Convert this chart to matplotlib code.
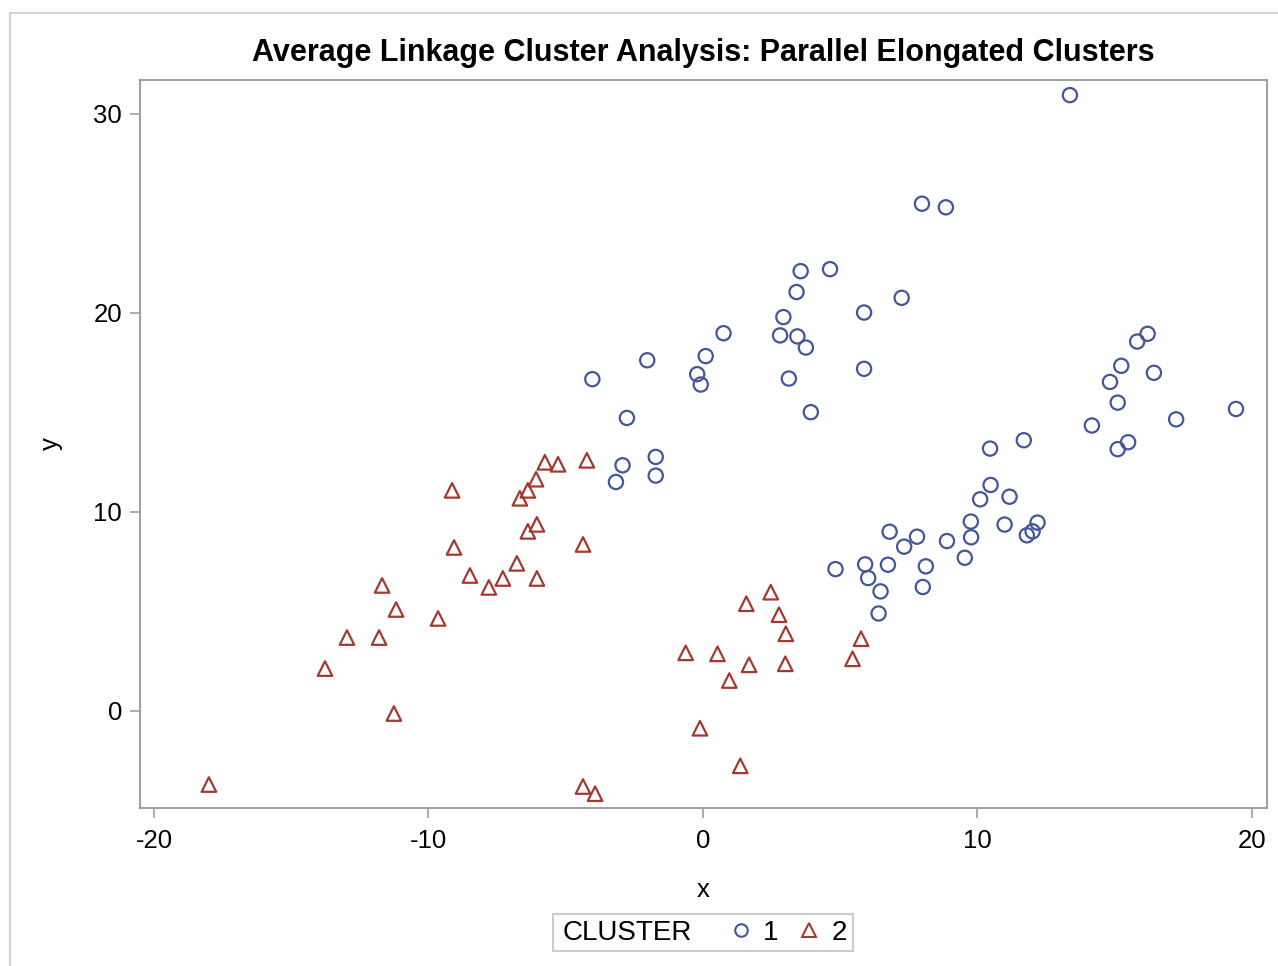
import matplotlib.pyplot as plt
from matplotlib.patches import Rectangle
from matplotlib.lines import Line2D

plt.rcParams['font.family'] = ['Liberation Sans', 'DejaVu Sans']
plt.rcParams['axes.unicode_minus'] = False

# cluster 1 (circles)
x1 = [3.56, 4.63, 3.41, 7.24, 5.87, 2.93, 0.75, 2.81, 3.44, 3.75, -2.03, 0.10,
      -0.21, -0.08, -4.03, 3.13, 5.87, 3.93, -2.77, -2.93, -3.17, -1.72, -1.72,
      13.37, 7.98, 8.85,
      16.20, 15.82, 15.24, 16.43, 14.83, 15.11, 19.42, 17.24, 14.17, 15.49, 15.11,
      11.69, 10.46, 10.48, 10.10, 11.17, 9.76, 10.99, 12.19, 12.01, 11.80, 9.77,
      8.89, 9.54, 6.80, 7.80, 7.33, 8.12, 6.74, 5.91, 4.83, 6.02, 6.47, 8.01, 6.40]
y1 = [22.09, 22.19, 21.04, 20.75, 20.01, 19.78, 18.97, 18.86, 18.81, 18.25, 17.61, 17.82,
      16.91, 16.39, 16.66, 16.69, 17.18, 15.00, 14.71, 12.33, 11.49, 12.75, 11.81,
      30.94, 25.48, 25.30,
      18.94, 18.55, 17.33, 16.98, 16.52, 15.48, 15.16, 14.64, 14.33, 13.49, 13.14,
      13.59, 13.17, 11.34, 10.62, 10.75, 9.50, 9.35, 9.45, 9.01, 8.81, 8.71,
      8.52, 7.68, 8.99, 8.74, 8.24, 7.25, 7.33, 7.35, 7.11, 6.66, 5.99, 6.21, 4.88]

# cluster 2 (triangles)
x2 = [-18.00, -13.77, -12.97, -11.80, -11.69, -11.18, -11.26, -9.65, -9.14, -9.07,
      -8.49, -7.80, -7.29, -6.78, -6.67, -6.38, -6.38, -6.08, -6.05, -6.05,
      -5.76, -5.28, -4.23, -4.37, -4.37, -3.93,
      -0.63, 0.53, -0.11, 0.96, 1.58, 1.68, 1.36, 2.47, 2.77, 3.02, 3.00, 5.76, 5.45]
y2 = [-3.72, 2.11, 3.67, 3.67, 6.29, 5.08, -0.15, 4.63, 11.07, 8.20,
      6.79, 6.19, 6.64, 7.40, 10.67, 11.07, 9.01, 11.63, 9.36, 6.64,
      12.48, 12.38, 12.58, 8.35, -3.82, -4.18,
      2.90, 2.85, -0.89, 1.51, 5.37, 2.30, -2.78, 5.95, 4.82, 3.86, 2.35, 3.61, 2.60]

xticks = [-20, -10, 0, 10, 20]
yticks = [0, 10, 20, 30]

blue = '#445697'
red = '#A33A2F'
framec = '#a0a0a0'
W, H = 1278, 966

fig = plt.figure(figsize=(12.78, 9.66), dpi=100)
# outer light border (left and top only visible)
fig.patches.append(Rectangle((10 / W, -1), 2.0, 2 - 13 / H, transform=fig.transFigure,
                             fill=False, edgecolor='#d4d4d4', linewidth=1.5))

ax = fig.add_axes([140 / W, 1 - 808 / H, 1127 / W, 728 / H])
ax.scatter(x1, y1, marker='o', s=105, facecolors='none', edgecolors=blue, linewidths=1.6)
ax.scatter(x2, y2, marker='^', s=110, facecolors='none', edgecolors=red, linewidths=1.6)

ax.set_xlim(-20.51, 20.55)
ax.set_ylim(-4.9, 31.7)
ax.set_xticks(xticks)
ax.set_yticks(yticks)
ax.tick_params(labelsize=18.5, length=7, width=1.2, color=framec, pad=6)
ax.tick_params(axis='x', pad=8)
for sp in ax.spines.values():
    sp.set_color(framec)
    sp.set_linewidth(1.5)
ax.set_xlabel('x', fontsize=18.5, labelpad=18)
ax.set_ylabel('y', fontsize=18.5, labelpad=22)

fig.text(703 / W, 1 - 53 / H, 'Average Linkage Cluster Analysis: Parallel Elongated Clusters',
         ha='center', va='center', fontsize=22, fontweight='bold')

# legend: frame, title on the left, entries on the right
fig.patches.append(Rectangle((553 / W, 1 - 951 / H), 300 / W, 37 / H, transform=fig.transFigure,
                             fill=False, edgecolor='#cccccc', linewidth=1.5))
fig.text(563 / W, 1 - 933 / H, 'CLUSTER', ha='left', va='center', fontsize=20)
handles = [Line2D([], [], marker='o', linestyle='none', markersize=9, markerfacecolor='none',
                  markeredgecolor=blue, markeredgewidth=1.5, label='1'),
           Line2D([], [], marker='^', linestyle='none', markersize=9.5, markerfacecolor='none',
                  markeredgecolor=red, markeredgewidth=1.5, label='2')]
fig.legend(handles=handles, loc='center', bbox_to_anchor=(787 / W, 1 - 933 / H),
           ncol=2, fontsize=20, frameon=False, handletextpad=0.3, columnspacing=0.6,
           borderpad=0, handlelength=1.0)

fig.savefig('out.png', dpi=100)
